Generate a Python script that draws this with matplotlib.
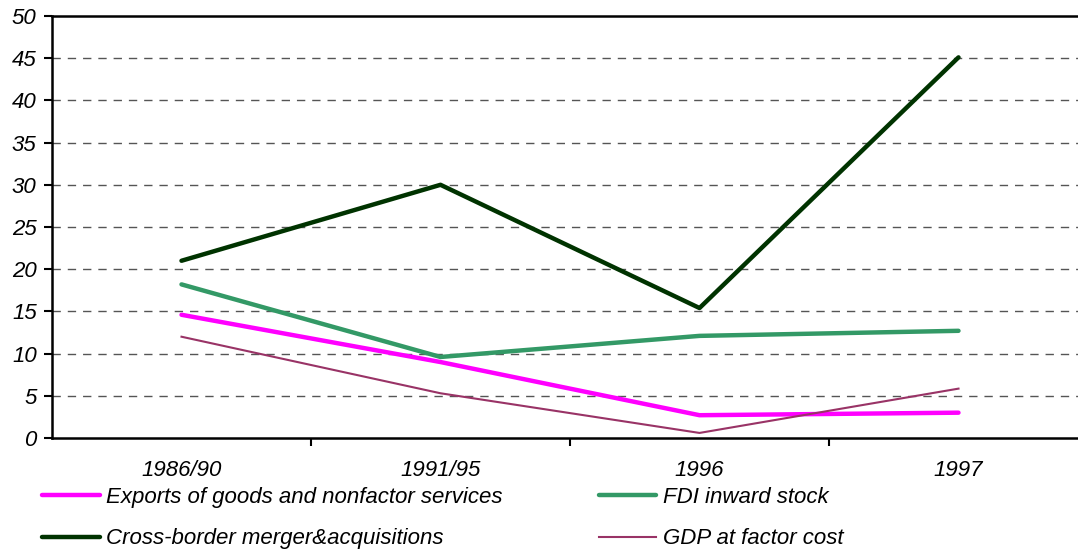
import numpy as np
import matplotlib.pyplot as plt
from matplotlib.ticker import FixedLocator

periods = ['1986/90', '1991/95', '1996', '1997']
exports = [14.6, 9.0, 2.7, 3.0]
fdi_stock = [18.2, 9.6, 12.1, 12.7]
cross_border = [21.0, 30.0, 15.4, 45.1]
gdp = [12.0, 5.3, 0.6, 5.85]

plt.rcParams['font.family'] = ['Liberation Sans', 'DejaVu Sans']

fig = plt.figure(figsize=(10.78, 5.49), dpi=100)
ax = fig.add_axes([52 / 1078, 1 - 438 / 549, (1088 - 52) / 1078, (438 - 16) / 549])

x = np.arange(len(periods))

# Linee delle serie
ax.plot(x, exports, color='#FF00FF', lw=3.2, solid_capstyle='round', label='Exports of goods and nonfactor services', zorder=3)
ax.plot(x, cross_border, color='#003300', lw=3.2, solid_capstyle='round', label='Cross-border merger&acquisitions', zorder=3)
ax.plot(x, fdi_stock, color='#339966', lw=3.2, solid_capstyle='round', label='FDI inward stock', zorder=3)
ax.plot(x, gdp, color='#993366', lw=1.5, label='GDP at factor cost', zorder=3)

ax.set_xlim(-0.5, len(periods) - 0.5)
ax.set_ylim(0, 50)
ax.set_yticks(np.arange(0, 51, 5))
ax.set_yticklabels([str(v) for v in range(0, 51, 5)], fontsize=16, style='italic')

ax.set_xticks(x)
ax.set_xticklabels(periods, fontsize=16, style='italic')
ax.tick_params(axis='x', which='major', length=0, pad=16)
ax.xaxis.set_minor_locator(FixedLocator([0.5, 1.5, 2.5]))
ax.tick_params(axis='x', which='minor', length=6, width=1.5, direction='out')
ax.tick_params(axis='y', length=6, width=1.5, direction='out', pad=5)

# Griglia tratteggiata
for v in range(5, 50, 5):
    ax.axhline(v, color='#555555', lw=1.0, ls=(0, (6, 5)), zorder=1)

for side in ['left', 'bottom', 'top']:
    ax.spines[side].set_linewidth(1.8)
ax.spines['right'].set_visible(False)

# Legenda
fig.legend(loc='upper left', bbox_to_anchor=(42 / 1078, 1 - 487 / 549), ncol=2, frameon=False,
           prop={'size': 16, 'style': 'italic'}, handlelength=2.6, handletextpad=0.3,
           columnspacing=4.3, labelspacing=0.92, borderpad=0, borderaxespad=0)

fig.savefig('out.png', dpi=100)
